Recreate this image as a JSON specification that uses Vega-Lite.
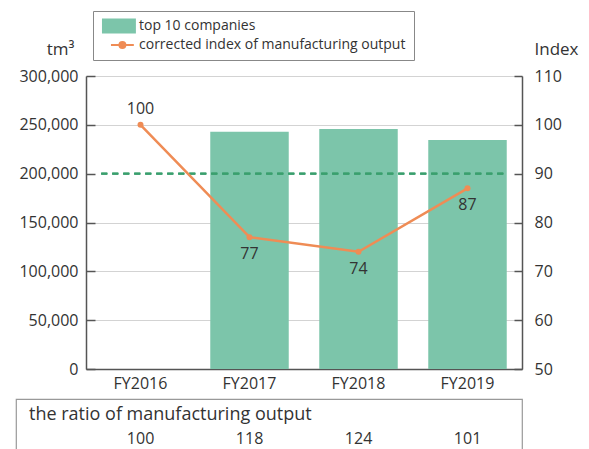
{
  "$schema": "https://vega.github.io/schema/vega-lite/v6.json",
  "padding": {"left": 15, "top": 10, "right": 5, "bottom": 0},
  "background": "white",
  "config": {
    "font": "Open Sans",
    "view": {"stroke": null},
    "axis": {"labelColor": "#333", "titleColor": "#333", "domainColor": "#555", "tickColor": "#555", "labelFontSize": 16, "titleFontSize": 17, "titleFontWeight": "normal"}
  },
  "datasets": {
    "main": [
      {"year": "FY2016", "volume": null, "index": 100, "ratio": 100},
      {"year": "FY2017", "volume": 243000, "index": 77, "ratio": 118},
      {"year": "FY2018", "volume": 245700, "index": 74, "ratio": 124},
      {"year": "FY2019", "volume": 234500, "index": 87, "ratio": 101}
    ]
  },
  "columns": 1,
  "spacing": 7,
  "concat": [
    {
      "width": 506,
      "height": 293,
      "data": {"name": "main"},
      "layer": [
        {
          "layer": [
            {
              "mark": {"type": "bar"},
              "encoding": {
                "x": {"field": "year", "type": "nominal", "scale": {"domain": ["FY2016", "FY2017", "FY2018", "FY2019"], "range": [70, 506], "paddingInner": 0.28, "paddingOuter": 0.14}, "axis": {"title": null, "labelAngle": 0, "ticks": false, "labelPadding": 6, "domainColor": "#555", "domainWidth": 1.5}},
                "y": {"field": "volume", "type": "quantitative", "title": "tm³", "scale": {"domain": [0, 300000], "nice": false},
                  "axis": {"title": "tm³", "offset": -70, "titleAngle": 0, "titleAlign": "right", "titleBaseline": "alphabetic", "titleX": -12, "titleY": -22, "values": [0, 50000, 100000, 150000, 200000, 250000, 300000], "format": ",d", "tickSize": -9, "labelPadding": 17, "grid": true, "gridColor": "#d3d3d3", "gridOpacity": {"condition": {"test": "datum.value === 200000", "value": 0}, "value": 1}, "domainWidth": 1.5, "tickWidth": 1.5}},
                "color": {"datum": "top 10 companies", "type": "nominal",
                  "scale": {"domain": ["top 10 companies", "corrected index of manufacturing output"], "range": ["#7cc5aa", "#ef8c55"]},
                  "legend": {
                    "orient": "none", "legendX": 77, "legendY": -65, "title": null, "direction": "vertical",
                    "strokeColor": "#888", "fillColor": "white", "padding": 8, "labelLimit": 500,
                    "labelFontSize": 14, "labelColor": "#333", "symbolSize": 324, "labelOffset": 24, "rowPadding": 4,
                    "encode": {"symbols": {"update": {
                      "shape": {"signal": "datum.value === 'top 10 companies' ? 'M-0.67,-0.83H3.1V0.83H-0.67Z' : 'M0.33,0H2.87M1.27,0A0.33,0.33,0,1,0,1.93,0A0.33,0.33,0,1,0,1.27,0Z'"},
                      "fill": {"signal": "datum.value === 'top 10 companies' ? '#7cc5aa' : '#ef8c55'"},
                      "stroke": {"signal": "datum.value === 'top 10 companies' ? 'transparent' : '#ef8c55'"},
                      "strokeWidth": {"signal": "datum.value === 'top 10 companies' ? 0 : 2"},
                      "opacity": {"value": 1}
                    }}}
                  }}
              }
            },
            {
              "mark": {"type": "rule", "color": "#3a9f6e", "strokeDash": [6, 5], "strokeWidth": 1.8},
              "encoding": {"y": {"datum": 200000, "type": "quantitative"}, "x": {"datum": "FY2016", "type": "nominal", "bandPosition": 0}, "x2": {"datum": "FY2019", "bandPosition": 1}}
            }
          ]
        },
        {
          "encoding": {
            "x": {"field": "year", "type": "nominal"},
            "y": {"field": "index", "type": "quantitative", "scale": {"domain": [50, 110], "nice": false},
              "axis": {"orient": "right", "title": "Index", "titleAngle": 0, "titleAlign": "left", "titleBaseline": "alphabetic", "titleX": 12, "titleY": -22, "values": [50, 60, 70, 80, 90, 100, 110], "tickSize": -8, "labelPadding": 20, "grid": false, "domainWidth": 1.5, "tickWidth": 1.5}}
          },
          "layer": [
            {"mark": {"type": "line", "strokeWidth": 2.5}, "encoding": {"color": {"datum": "corrected index of manufacturing output", "type": "nominal"}}},
            {"mark": {"type": "point", "filled": true, "size": 36, "color": "#ef8c55", "opacity": 1}},
            {"transform": [{"filter": "datum.year === 'FY2016'"}], "mark": {"type": "text", "fontSize": 16, "color": "#333", "dy": -16}, "encoding": {"text": {"field": "index"}}},
            {"transform": [{"filter": "datum.year !== 'FY2016'"}], "mark": {"type": "text", "fontSize": 16, "color": "#333", "dy": 17}, "encoding": {"text": {"field": "index"}}}
          ]
        }
      ],
      "resolve": {"scale": {"y": "independent"}}
    },
    {
      "width": 506,
      "height": 80,
      "data": {"name": "main"},
      "title": {"text": "the ratio of manufacturing output", "anchor": "start", "frame": "group", "orient": "top", "offset": -25, "dx": 13, "fontSize": 18, "fontWeight": "normal", "color": "#333"},
      "view": {"stroke": "#999", "strokeWidth": 1.2},
      "mark": {"type": "text", "fontSize": 16, "color": "#333"},
      "encoding": {
        "x": {"field": "year", "type": "nominal", "scale": {"type": "point", "padding": 0.821, "align": 0.696}, "axis": null},
        "text": {"field": "ratio"}
      }
    }
  ]
}
